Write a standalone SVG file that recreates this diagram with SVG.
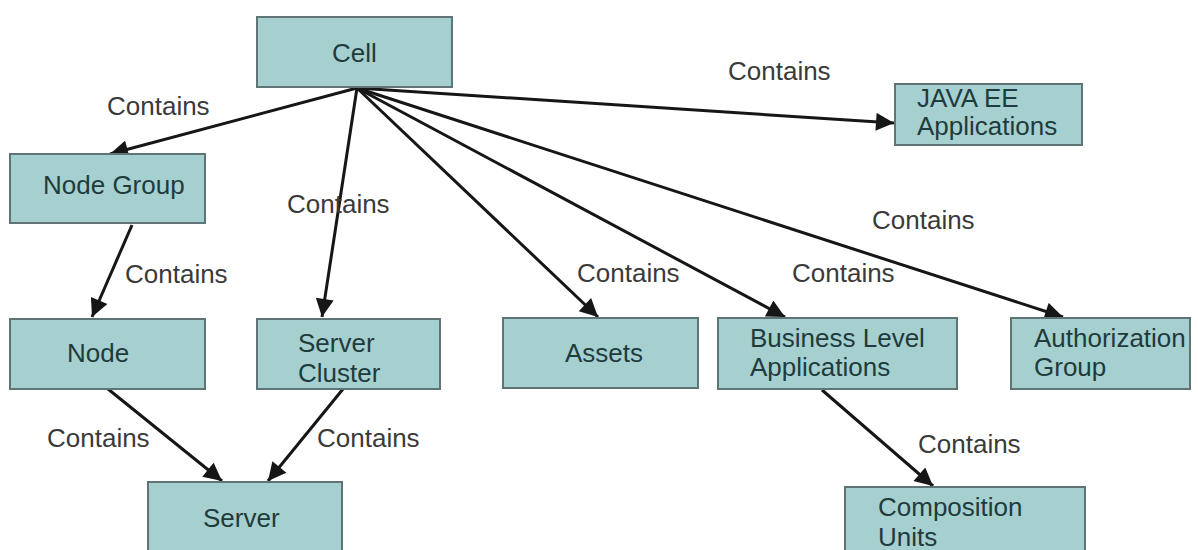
<svg xmlns="http://www.w3.org/2000/svg" width="1198" height="550" viewBox="0 0 1198 550">
<style>
.box{fill:#a6d0d0;stroke:#5f7474;stroke-width:2}
.t{font-family:"Liberation Sans",Arial,sans-serif;font-size:26px;fill:#1f3b3c}
.lbl{font-family:"Liberation Sans",Arial,sans-serif;font-size:26px;fill:#3a3a3a}
.c{stroke:#161616;stroke-width:3;fill:none;marker-end:url(#ah)}
</style>
<defs>
<marker id="ah" viewBox="0 0 10 10" refX="10" refY="5" markerWidth="6.5" markerHeight="6" markerUnits="strokeWidth" orient="auto">
<path d="M0,0 L10,5 L0,10 z" fill="#161616"/>
</marker>
</defs>
<rect width="1198" height="550" fill="#ffffff"/>
<g id="connectors">
<line class="c" x1="357" y1="88" x2="110" y2="154"/>
<line class="c" x1="357" y1="88" x2="322" y2="317"/>
<line class="c" x1="357" y1="88" x2="598" y2="317"/>
<line class="c" x1="357" y1="88" x2="785" y2="317"/>
<line class="c" x1="357" y1="88" x2="1063" y2="317"/>
<line class="c" x1="357" y1="88" x2="894" y2="123"/>
<line class="c" x1="132" y1="225" x2="92" y2="317"/>
<line class="c" x1="108" y1="389" x2="222" y2="481"/>
<line class="c" x1="343" y1="389" x2="268" y2="481"/>
<line class="c" x1="822" y1="390" x2="933" y2="486"/>
<text class="lbl" x="107" y="115">Contains</text>
<text class="lbl" x="728" y="80">Contains</text>
<text class="lbl" x="287" y="213">Contains</text>
<text class="lbl" x="125" y="283">Contains</text>
<text class="lbl" x="577" y="282">Contains</text>
<text class="lbl" x="792" y="282">Contains</text>
<text class="lbl" x="872" y="229">Contains</text>
<text class="lbl" x="47" y="447">Contains</text>
<text class="lbl" x="317" y="447">Contains</text>
<text class="lbl" x="918" y="453">Contains</text>
</g>
<g id="cell"><rect class="box" x="257" y="17" width="195" height="70"/><text class="t" x="332" y="62">Cell</text></g>
<g id="javaee"><rect class="box" x="895" y="84" width="187" height="61"/><text class="t" x="917" y="107" font-size="23">JAVA EE</text><text class="t" x="917" y="135" font-size="23">Applications</text></g>
<g id="nodegroup"><rect class="box" x="10" y="154" width="195" height="69"/><text class="t" x="43" y="194">Node Group</text></g>
<g id="node"><rect class="box" x="10" y="319" width="195" height="70"/><text class="t" x="67" y="362">Node</text></g>
<g id="servercluster"><rect class="box" x="257" y="319" width="183" height="70"/><text class="t" x="298" y="352">Server</text><text class="t" x="298" y="382">Cluster</text></g>
<g id="assets"><rect class="box" x="503" y="318" width="195" height="70"/><text class="t" x="565" y="362">Assets</text></g>
<g id="bla"><rect class="box" x="718" y="318" width="239" height="71"/><text class="t" x="750" y="347">Business Level</text><text class="t" x="750" y="376">Applications</text></g>
<g id="authgroup"><rect class="box" x="1011" y="318" width="179" height="71"/><text class="t" x="1034" y="347">Authorization</text><text class="t" x="1034" y="376">Group</text></g>
<g id="server"><rect class="box" x="148" y="482" width="194" height="80"/><text class="t" x="203" y="527">Server</text></g>
<g id="compunits"><rect class="box" x="845" y="487" width="240" height="80"/><text class="t" x="878" y="516">Composition</text><text class="t" x="878" y="546">Units</text></g>
</svg>
